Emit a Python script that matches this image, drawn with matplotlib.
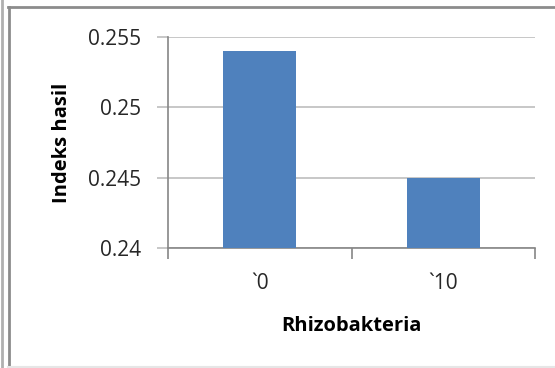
import matplotlib
matplotlib.use("Agg")
from matplotlib import pyplot as plt
from matplotlib.lines import Line2D

# data
kategori = ["`0", "`10"]
indeks_hasil = [0.254, 0.245]
y_ticks = [0.24, 0.245, 0.25, 0.255]
y_labels = ["0.24", "0.245", "0.25", "0.255"]

plt.rcParams['font.family'] = ['Open Sans', 'DejaVu Sans']

fig = plt.figure(figsize=(5.55, 3.68), dpi=100)
W, H = 555, 368

ax = fig.add_axes([168 / W, 1 - 248 / H, (535 - 168) / W, (248 - 37) / H])

x = range(len(kategori))
ax.bar(x, indeks_hasil, width=0.4, color="#4F81BD", zorder=3)

ax.set_ylim(0.24, 0.255)
ax.set_xlim(-0.5, len(kategori) - 0.5)
ax.set_yticks(y_ticks)
ax.set_yticklabels(y_labels, fontsize=15, color="#262626")
ax.yaxis.grid(True, color="#BEBEBE", linewidth=1.2, zorder=0)
ax.tick_params(axis="y", length=8, color="#BEBEBE", width=1.2, pad=11)

# tick marks between categories, labels at the bar centres
ax.set_xticks([i - 0.5 for i in range(len(kategori) + 1)])
ax.set_xticklabels([])
ax.set_xticks(list(x), minor=True)
ax.set_xticklabels(kategori, minor=True, fontsize=15, color="#262626")
ax.tick_params(axis="x", which="major", length=8, color="#868686", width=1.2)
ax.tick_params(axis="x", which="minor", length=0, pad=18)

for s in ["top", "right"]:
    ax.spines[s].set_visible(False)
for s in ["left", "bottom"]:
    ax.spines[s].set_color("#868686")
    ax.spines[s].set_linewidth(1.2)

ax.set_ylabel("Indeks hasil", fontsize=14.5, fontweight="bold", labelpad=12)
ax.set_xlabel("Rhizobakteria", fontsize=14.5, fontweight="bold", labelpad=16)

# outer frame
def garis(x0, y0, x1, y1, c, lw):
    fig.add_artist(Line2D([x0 / W, x1 / W], [1 - y0 / H, 1 - y1 / H],
                          color=c, linewidth=lw, transform=fig.transFigure))

garis(1.5, 0, 1.5, H, "#B0B0B0", 2)
garis(8.5, 6.5, 8.5, H, "#8C8C8C", 2)
garis(8, 6.5, W, 6.5, "#8C8C8C", 2)
garis(8, 366.5, W, 366.5, "#E6E6E6", 1.5)

fig.savefig("out.png", dpi=100)
